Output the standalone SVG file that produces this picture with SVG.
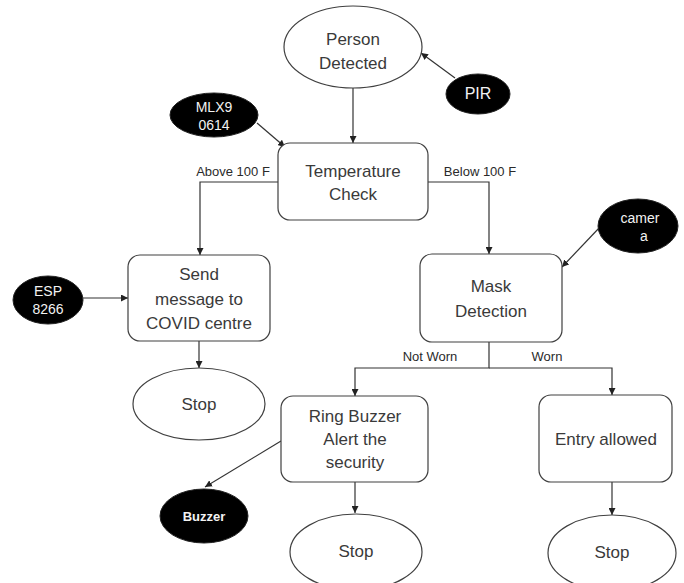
<svg xmlns="http://www.w3.org/2000/svg" width="684" height="583" viewBox="0 0 684 583">
<style>
.box{fill:#fff;stroke:#404040;stroke-width:1.2}
.dark{fill:#000;stroke:#222;stroke-width:1}
.t{font-family:"Liberation Sans",Arial,sans-serif;font-size:17px;fill:#3a3a3a;text-anchor:middle}
.w{font-family:"Liberation Sans",Arial,sans-serif;font-size:14px;fill:#f2f2f2;text-anchor:middle}
.b{font-weight:bold;font-size:13px}
.l{font-family:"Liberation Sans",Arial,sans-serif;font-size:13px;fill:#2a2a2a;text-anchor:middle}
.c{fill:none;stroke:#333;stroke-width:1.2}
</style>
<defs>
<marker id="ah" viewBox="0 0 10 10" refX="10" refY="5" markerWidth="7" markerHeight="7" markerUnits="userSpaceOnUse" orient="auto">
<path d="M0,0 L10,5 L0,10 z" fill="#222"/>
</marker>
</defs>
<rect width="684" height="583" fill="#fff"/>
<g id="connectors">
<path class="c" d="M353,88 V143" marker-end="url(#ah)"/>
<path class="c" d="M455,78 L421,53" marker-end="url(#ah)"/>
<path class="c" d="M257,123 L285,147" marker-end="url(#ah)"/>
<path class="c" d="M278,182 H200 V255" marker-end="url(#ah)"/>
<path class="c" d="M428,182 H489 V254" marker-end="url(#ah)"/>
<path class="c" d="M83,298 H128" marker-end="url(#ah)"/>
<path class="c" d="M199,341 V368" marker-end="url(#ah)"/>
<path class="c" d="M600,227 L562,267" marker-end="url(#ah)"/>
<path class="c" d="M489,342 V368 H355 V396" marker-end="url(#ah)"/>
<path class="c" d="M489,368 H612 V395" marker-end="url(#ah)"/>
<path class="c" d="M281,441 L205,487" marker-end="url(#ah)"/>
<path class="c" d="M355,482 V513" marker-end="url(#ah)"/>
<path class="c" d="M612,482 V515" marker-end="url(#ah)"/>
<text class="l" x="233" y="176">Above 100 F</text>
<text class="l" x="480" y="176">Below 100 F</text>
<text class="l" x="430" y="361">Not Worn</text>
<text class="l" x="547" y="361">Worn</text>
</g>
<g id="person">
<ellipse class="box" cx="353" cy="47" rx="69" ry="41"/>
<text class="t" x="353" y="45">Person</text>
<text class="t" x="353" y="69">Detected</text>
</g>
<g id="pir">
<ellipse class="dark" cx="478" cy="94" rx="32" ry="20"/>
<text class="w" x="478" y="99" style="font-size:16px">PIR</text>
</g>
<g id="mlx">
<ellipse class="dark" cx="214" cy="115" rx="44" ry="22"/>
<text class="w" x="214" y="112">MLX9</text>
<text class="w" x="214" y="130">0614</text>
</g>
<g id="temp">
<rect class="box" x="278" y="143" width="150" height="77" rx="12"/>
<text class="t" x="353" y="177">Temperature</text>
<text class="t" x="353" y="200">Check</text>
</g>
<g id="send">
<rect class="box" x="128" y="255" width="142" height="86" rx="12"/>
<text class="t" x="199" y="280">Send</text>
<text class="t" x="199" y="305">message to</text>
<text class="t" x="199" y="329">COVID centre</text>
</g>
<g id="esp">
<ellipse class="dark" cx="48" cy="300" rx="35" ry="24"/>
<text class="w" x="48" y="296">ESP</text>
<text class="w" x="48" y="314">8266</text>
</g>
<g id="stop1">
<ellipse class="box" cx="199" cy="404" rx="66" ry="36"/>
<text class="t" x="199" y="410">Stop</text>
</g>
<g id="mask">
<rect class="box" x="420" y="254" width="142" height="88" rx="12"/>
<text class="t" x="491" y="292">Mask</text>
<text class="t" x="491" y="317">Detection</text>
</g>
<g id="camera">
<ellipse class="dark" cx="638" cy="226" rx="40" ry="27"/>
<text class="w" x="640" y="223">camer</text>
<text class="w" x="644" y="241">a</text>
</g>
<g id="ring">
<rect class="box" x="281" y="396" width="147" height="86" rx="12"/>
<text class="t" x="355" y="422">Ring Buzzer</text>
<text class="t" x="355" y="445">Alert the</text>
<text class="t" x="355" y="468">security</text>
</g>
<g id="entry">
<rect class="box" x="539" y="395" width="133" height="87" rx="12"/>
<text class="t" x="606" y="445">Entry allowed</text>
</g>
<g id="buzzer">
<ellipse class="dark" cx="204" cy="516" rx="44" ry="27"/>
<text class="w b" x="204" y="521">Buzzer</text>
</g>
<g id="stop2">
<ellipse class="box" cx="356" cy="552" rx="66" ry="38"/>
<text class="t" x="356" y="557">Stop</text>
</g>
<g id="stop3">
<ellipse class="box" cx="612" cy="553" rx="64" ry="38"/>
<text class="t" x="612" y="558">Stop</text>
</g>
</svg>
